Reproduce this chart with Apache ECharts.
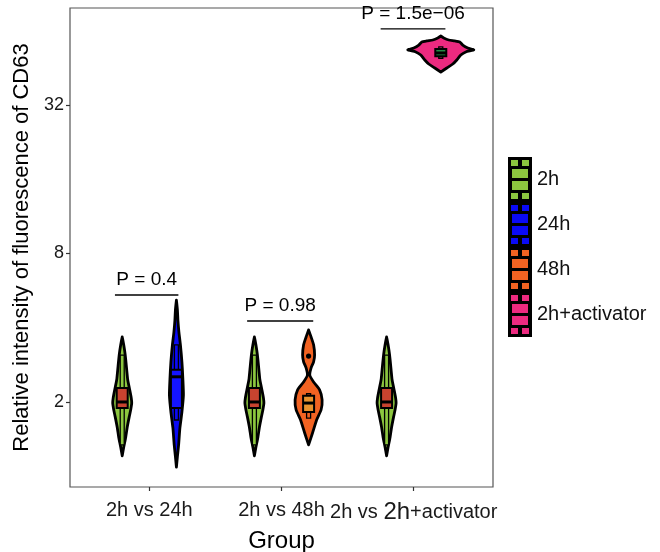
<!DOCTYPE html>
<html>
<head>
<meta charset="utf-8">
<script src="https://cdn.jsdelivr.net/npm/echarts/dist/echarts.min.js"></script>
<style>
  html, body { margin: 0; padding: 0; background: #fff; }
  #chart { width: 660px; height: 552px; }
</style>
</head>
<body>
<div id="chart"></div>
<script>
// x categories and legend groups
const categories = ['2h vs 24h', '2h vs 48h', '2h vs 2h+activator']
const groupNames = ['2h', '24h', '48h', '2h+activator']
const yTickValues = [2, 8, 32]

// violin outlines: intensity values and half width (px)
const v2hValues = [3.67, 3.41, 3.10, 2.70, 2.46, 2.24, 2.08, 1.98, 1.86, 1.74, 1.58, 1.44, 1.31, 1.21]
const v2hWidth = [0, 1.5, 3, 4.5, 5.5, 7.5, 9, 9.5, 8.5, 7, 5, 3.5, 1.5, 0]
// box: lower whisker, q1, median, q3, upper whisker
const box2h = [1.34, 1.89, 2.0, 2.28, 3.10]

const v24hValues = [5.18, 4.72, 4.30, 3.84, 3.41, 2.91, 2.46, 2.13, 1.82, 1.57, 1.34, 1.20, 1.09]
const v24hWidth = [0, 1, 1.5, 2.5, 4, 5.5, 6.5, 7, 5.5, 3.5, 2.2, 1, 0]
const box24h = [1.69, 1.89, 2.53, 2.70, 3.41]

const v48hValues = [3.92, 3.67, 3.41, 3.10, 2.91, 2.75, 2.57, 2.41, 2.24, 2.04, 1.86, 1.69, 1.50, 1.34]
const v48hWidth = [0, 2.5, 5, 6, 5, 2.5, 1.2, 5, 11, 13.5, 12.5, 8, 4, 0]
const box48h = [1.72, 1.82, 1.98, 2.12, 2.16]
const out48h = [3.07]

const vActValues = [60.9, 59.8, 58.7, 58.2, 57.6, 56.0, 54.5, 53.5, 52.5, 51.0, 48.7, 46.9, 45.2, 43.5]
const vActWidth = [0, 3, 8, 14, 19, 22, 27, 33, 25, 20, 16, 12, 6, 0]
const boxAct = [49.5, 50.4, 52.0, 54.0, 55.0]

// category index where each group is drawn
const pos2h = [1, 2, 3]
const pos24h = [1]
const pos48h = [2]
const posAct = [3]

// significance brackets
const signifStart = [0.74, 1.74, 2.75]
const signifEnd = [1.22, 2.24, 3.24]
const signifY = [5.43, 4.26, 65.1]
const signifLabels = ['P = 0.4', 'P = 0.98', 'P = 1.5e\u221206']

const FONT = "'Liberation Sans', Arial, sans-serif"
const dodge = 0.205

let violins = {
  '2h': { values: v2hValues, width: v2hWidth, box: box2h, out: [], pos: pos2h, side: -1, color: '#8cc63f', boxColor: '#c8432f' },
  '24h': { values: v24hValues, width: v24hWidth, box: box24h, out: [], pos: pos24h, side: 1, color: '#0a0af5', boxColor: '#1414ff' },
  '48h': { values: v48hValues, width: v48hWidth, box: box48h, out: out48h, pos: pos48h, side: 1, color: '#f26322', boxColor: '#e8922e' },
  '2h+activator': { values: vActValues, width: vActWidth, box: boxAct, out: [], pos: posAct, side: 1, color: '#ec2a80', boxColor: '#238b45' }
}

function makeViolinRender (name) {
  let d = violins[name]
  return function (params, api) {
    let xc = api.value(0)
    let left = []
    let right = []
    for (let i = 0; i < d.values.length; i++) {
      let p = api.coord([xc, Math.log2(d.values[i])])
      left.push([p[0] - d.width[i], p[1]])
      right.push([p[0] + d.width[i], p[1]])
    }
    let pts = left.concat(right.reverse())
    let c = (v) => api.coord([xc, Math.log2(v)])
    let lo = c(d.box[0])
    let q1 = c(d.box[1])
    let med = c(d.box[2])
    let q3 = c(d.box[3])
    let hi = c(d.box[4])
    let bw = 5.5
    let ww = 2
    let children = [
      {
        type: 'polygon',
        shape: { points: pts, smooth: 0.2 },
        style: { fill: d.color, stroke: '#000', lineWidth: 2.8, lineJoin: 'round' }
      },
      {
        type: 'rect',
        shape: { x: hi[0] - ww, y: hi[1], width: ww * 2, height: q3[1] - hi[1] },
        style: { fill: d.color, stroke: '#000', lineWidth: 1.3 }
      },
      {
        type: 'rect',
        shape: { x: lo[0] - ww, y: q1[1], width: ww * 2, height: lo[1] - q1[1] },
        style: { fill: d.color, stroke: '#000', lineWidth: 1.3 }
      },
      {
        type: 'rect',
        shape: { x: q3[0] - bw, y: q3[1], width: bw * 2, height: q1[1] - q3[1] },
        style: { fill: d.boxColor, stroke: '#000', lineWidth: 2 }
      },
      {
        type: 'line',
        shape: { x1: med[0] - bw, y1: med[1], x2: med[0] + bw, y2: med[1] },
        style: { stroke: '#000', lineWidth: 3 }
      }
    ]
    for (let o of d.out) {
      let p = c(o)
      children.push({ type: 'circle', shape: { cx: p[0], cy: p[1], r: 2.6 }, style: { fill: '#000' } })
    }
    return { type: 'group', children: children }
  }
}

let series = groupNames.map(function (name) {
  let d = violins[name]
  return {
    name: name,
    type: 'custom',
    itemStyle: { color: d.color },
    encode: { x: 0, y: 1 },
    data: d.pos.map((g) => [g + d.side * dodge, Math.log2(d.box[2])]),
    renderItem: makeViolinRender(name),
    z: 3
  }
})

series.push({
  name: 'signif',
  type: 'custom',
  encode: { x: 0, y: 2 },
  data: signifStart.map((s, i) => [s, signifEnd[i], Math.log2(signifY[i]), signifLabels[i]]),
  renderItem: function (params, api) {
    let a = api.coord([api.value(0), api.value(2)])
    let b = api.coord([api.value(1), api.value(2)])
    return {
      type: 'group',
      children: [
        { type: 'line', shape: { x1: a[0], y1: a[1], x2: b[0], y2: b[1] }, style: { stroke: '#000', lineWidth: 1.3 } },
        {
          type: 'text',
          style: {
            x: (a[0] + b[0]) / 2, y: a[1] - 6,
            text: signifLabels[params.dataIndex],
            fill: '#000', font: '19px ' + FONT,
            align: 'center', verticalAlign: 'bottom'
          }
        }
      ]
    }
  },
  z: 4
})

// legend key drawn like ggplot's violin+box key
const keyPath = 'path://M0,0L0,0Z M24,45L24,45Z M3,3h7v6h-7Z M14,3h7v6h-7Z M4,12h16v9h-16Z M4,24h16v9h-16Z M3,36h7v6h-7Z M14,36h7v6h-7Z'

let legendBase = {
  orient: 'vertical',
  left: 503,
  top: 152,
  itemWidth: 24,
  itemHeight: 45,
  itemGap: 0,
  selectedMode: false,
  data: groupNames
}

let myChart = echarts.init(document.getElementById('chart'))
myChart.setOption({
  animation: false,
  textStyle: { fontFamily: FONT },
  grid: {
    left: 70, right: 167, top: 8, bottom: 65,
    outerBoundsMode: 'none',
    containLabel: false,
    show: true, borderColor: '#555', borderWidth: 1.2
  },
  legend: [
    Object.assign({}, legendBase, {
      icon: 'rect',
      itemStyle: { color: '#000', borderWidth: 0 },
      textStyle: { fontSize: 20, color: '#111', fontFamily: FONT }
    }),
    Object.assign({}, legendBase, {
      icon: keyPath,
      z: 6,
      itemStyle: { borderWidth: 0 },
      textStyle: { fontSize: 20, color: 'rgba(0,0,0,0)', fontFamily: FONT }
    })
  ],
  xAxis: {
    type: 'value',
    min: 0.4,
    max: 3.6,
    name: 'Group',
    nameLocation: 'middle',
    nameGap: 36,
    nameTextStyle: { fontSize: 24, color: '#000', fontFamily: FONT },
    axisLine: { show: false, onZero: false },
    splitLine: { show: false },
    axisTick: { show: true, length: 4, lineStyle: { color: '#333', width: 1.2 }, customValues: [1, 2, 3] },
    axisLabel: {
      customValues: [1, 2, 3],
      margin: 13,
      fontSize: 20,
      color: '#1a1a1a',
      formatter: function (v) {
        let label = categories[Math.round(v) - 1]
        if (label.indexOf('+') > -1) {
          return label.replace(/ (2h)\+/, ' {big|$1}+')
        }
        return label
      },
      rich: { big: { fontSize: 24, color: '#1a1a1a', fontFamily: FONT } }
    }
  },
  yAxis: {
    type: 'value',
    min: -0.145,
    max: 6.306,
    name: 'Relative intensity of fluorescence of CD63',
    nameLocation: 'middle',
    nameGap: 37,
    nameTextStyle: { fontSize: 22, color: '#000', fontFamily: FONT },
    axisLine: { show: false, onZero: false },
    splitLine: { show: false },
    axisTick: { show: true, length: 4, lineStyle: { color: '#333', width: 1.2 }, customValues: yTickValues.map((v) => Math.log2(v)) },
    axisLabel: {
      customValues: yTickValues.map((v) => Math.log2(v)),
      margin: 6,
      fontSize: 18,
      color: '#1a1a1a',
      formatter: function (v) {
        return String(Math.round(Math.pow(2, v)))
      }
    }
  },
  series: series
})
</script>
</body>
</html>
